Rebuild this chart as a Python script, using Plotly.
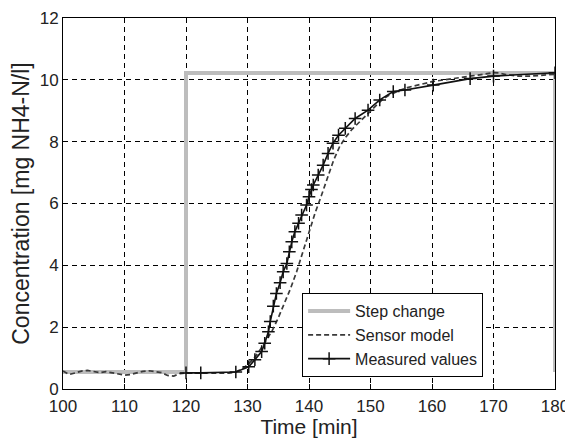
import plotly.graph_objects as go

# step change of the inflow concentration
step_t = [100, 120, 120, 180, 180]
step_c = [0.55, 0.55, 10.22, 10.22, 0.55]

# sensor model response
model_t = [100, 101, 102, 103, 104, 105, 106, 107, 108, 109, 110, 111, 112, 113, 114, 115,
           116, 117, 118, 119, 120, 122, 124, 126, 127, 128, 129, 130, 131, 132, 133, 134,
           135, 136, 137, 138, 139, 140, 141, 142, 143, 144, 145, 146, 147, 148, 149, 150,
           151, 152, 153, 154, 155, 156, 158, 160, 162, 164, 166, 168, 170, 171, 172, 174,
           176, 178, 180]
model_c = [0.58, 0.47, 0.52, 0.58, 0.60, 0.57, 0.53, 0.56, 0.52, 0.47, 0.45, 0.47, 0.52, 0.57,
           0.59, 0.56, 0.53, 0.44, 0.42, 0.50, 0.52, 0.52, 0.51, 0.50, 0.51, 0.55, 0.63, 0.78,
           0.98, 1.25, 1.55, 1.88, 2.30, 2.75, 3.25, 3.80, 4.45, 5.10, 5.70, 6.25, 6.80, 7.40,
           7.85, 8.15, 8.40, 8.60, 8.80, 9.00, 9.20, 9.38, 9.50, 9.60, 9.68, 9.75, 9.85, 9.94,
           10.00, 10.05, 10.10, 10.17, 10.23, 10.22, 10.17, 10.12, 10.12, 10.14, 10.18]

# measured values
meas_t = [120, 122.4, 128.1, 130.2, 131.2, 132.3, 132.8, 133.4, 133.7, 134.2, 134.7, 135.3,
          135.8, 136.4, 136.8, 137.2, 137.7, 138.3, 138.8, 139.6, 140.0, 140.4, 140.7, 141.5,
          142.3, 143.1, 143.9, 144.8, 145.9, 147.5, 149.6, 151.5, 153.7, 155.6, 160.2, 166.2,
          170.0, 180.0]
meas_c = [0.52, 0.52, 0.55, 0.72, 0.95, 1.21, 1.48, 1.85, 2.18, 2.68, 3.09, 3.44,
          3.79, 4.06, 4.44, 4.76, 5.09, 5.36, 5.63, 5.95, 6.22, 6.45, 6.60, 6.92,
          7.24, 7.62, 7.95, 8.21, 8.43, 8.75, 9.02, 9.35, 9.62, 9.67, 9.83, 10.04,
          10.12, 10.23]

fig = go.Figure()
fig.add_trace(go.Scatter(x=step_t, y=step_c, mode="lines", name="Step change",
                         line=dict(color="#bdbdbd", width=4)))
fig.add_trace(go.Scatter(x=model_t, y=model_c, mode="lines", name="Sensor model",
                         line=dict(color="#3a3a3a", width=1.7, dash="5px,3px")))
fig.add_trace(go.Scatter(x=meas_t, y=meas_c, mode="lines+markers", name="Measured values",
                         line=dict(color="#111111", width=1.6),
                         marker=dict(symbol="cross-thin", size=9,
                                     line=dict(color="#111111", width=1.5))))

axis_style = dict(showline=True, linecolor="black", linewidth=1, mirror=True,
                  ticks="inside", ticklen=5, tickcolor="black", automargin=False,
                  showgrid=True, gridcolor="black", gridwidth=1, griddash="5px,4px",
                  zeroline=False, tickfont=dict(size=17, color="#222222"))

# the page body adds an 8px margin, so the figure is a little smaller than the window
fig.update_layout(
    width=565, height=430,
    margin=dict(l=55, r=18, t=10, b=49),
    paper_bgcolor="white", plot_bgcolor="white",
    font=dict(family="Liberation Sans, Arial, sans-serif", color="#222222"),
    xaxis=dict(range=[100, 180], tickvals=[100, 110, 120, 130, 140, 150, 160, 170, 180],
               ticklabelstandoff=2,
               title=dict(text="Time [min]", font=dict(size=21), standoff=5), **axis_style),
    yaxis=dict(range=[0, 12], tickvals=[0, 2, 4, 6, 8, 10, 12],
               title=dict(text="Concentration [mg NH4-N/l]", font=dict(size=23), standoff=8),
               **axis_style),
    showlegend=True,
    legend=dict(x=0.486, y=0.032, xanchor="left", yanchor="bottom",
                bgcolor="white", bordercolor="black", borderwidth=1,
                font=dict(size=16), tracegroupgap=0, itemwidth=42),
)

fig.write_html("out.html")
